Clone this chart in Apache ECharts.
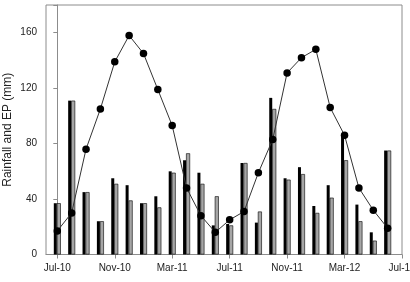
<!DOCTYPE html>
<html>
<head>
<meta charset="utf-8">
<script src="https://cdn.jsdelivr.net/npm/echarts@6/dist/echarts.min.js"></script>
<style>
  html, body { margin: 0; padding: 0; background: #fff; }
  #chart { width: 410px; height: 282px; }
</style>
</head>
<body>
<div id="chart"></div>
<script>
// monthly, Jul-10 .. Jun-12
var months = ['Jul-10', 'Aug-10', 'Sep-10', 'Oct-10', 'Nov-10', 'Dec-10',
  'Jan-11', 'Feb-11', 'Mar-11', 'Apr-11', 'May-11', 'Jun-11',
  'Jul-11', 'Aug-11', 'Sep-11', 'Oct-11', 'Nov-11', 'Dec-11',
  'Jan-12', 'Feb-12', 'Mar-12', 'Apr-12', 'May-12', 'Jun-12']
var rainBlack = [37, 111, 45, 24, 55, 50, 37, 42, 60, 68, 59, 21, 22, 66, 23, 113, 55, 63, 35, 50, 87, 36, 16, 75]
var rainGray = [37, 111, 45, 24, 51, 39, 37, 34, 59, 73, 51, 42, 21, 66, 31, 105, 54, 58, 30, 41, 68, 24, 10, 75]
var ep = [17, 30, 76, 105, 139, 158, 145, 119, 93, 48, 28, 16, 25, 31, 59, 83, 131, 142, 148, 106, 86, 48, 32, 19]
var tickValues = [0, 4, 8, 12, 16, 20, 24]
var tickLabels = ['Jul-10', 'Nov-10', 'Mar-11', 'Jul-11', 'Nov-11', 'Mar-12', 'Jul-12']

function pairs(arr) {
  return arr.map(function(v, i) { return [i, v] })
}

var font = 'Liberation Sans, Arial, sans-serif'
var chart = echarts.init(document.getElementById('chart'))
chart.setOption({
  animation: false,
  grid: {
    left: 46,
    top: 5,
    right: 8,
    bottom: 27.5,
    outerBoundsMode: 'none',
    show: true,
    borderColor: '#8c8c8c',
    borderWidth: 1
  },
  xAxis: {
    type: 'value',
    min: -0.787,
    max: 24,
    splitLine: { show: false },
    axisLine: { lineStyle: { color: '#8c8c8c' } },
    axisTick: {
      customValues: tickValues,
      length: 4,
      lineStyle: { color: '#8c8c8c' }
    },
    axisLabel: {
      customValues: tickValues,
      margin: 9,
      color: '#222',
      fontSize: 10,
      fontFamily: font,
      formatter: function(v) {
        var k = tickValues.indexOf(v)
        return k >= 0 ? tickLabels[k] : ''
      }
    }
  },
  yAxis: {
    type: 'value',
    min: 0,
    max: 180,
    interval: 40,
    name: 'Rainfall and EP (mm)',
    nameLocation: 'middle',
    nameGap: 32,
    nameMoveOverlap: false,
    nameTextStyle: { color: '#222', fontSize: 12, fontFamily: font },
    splitLine: { show: false },
    axisLine: { show: true, lineStyle: { color: '#8c8c8c' } },
    axisTick: { show: true, length: 4, lineStyle: { color: '#8c8c8c' } },
    axisLabel: {
      margin: 9,
      color: '#222',
      fontSize: 10,
      fontFamily: font,
      formatter: function(v) { return v > 160 ? '' : v }
    }
  },
  series: [{
    type: 'bar',
    data: pairs(rainBlack),
    barWidth: 3,
    barGap: '0%',
    itemStyle: { color: '#000' }
  }, {
    type: 'bar',
    data: pairs(rainGray),
    barWidth: 4,
    barGap: '0%',
    itemStyle: { color: '#a6a6a6', borderColor: '#000', borderWidth: 0.6 }
  }, {
    type: 'line',
    data: pairs(ep),
    symbol: 'circle',
    symbolSize: 7.5,
    lineStyle: { color: '#333', width: 1 },
    itemStyle: { color: '#000' },
    z: 5
  }]
})
</script>
</body>
</html>
